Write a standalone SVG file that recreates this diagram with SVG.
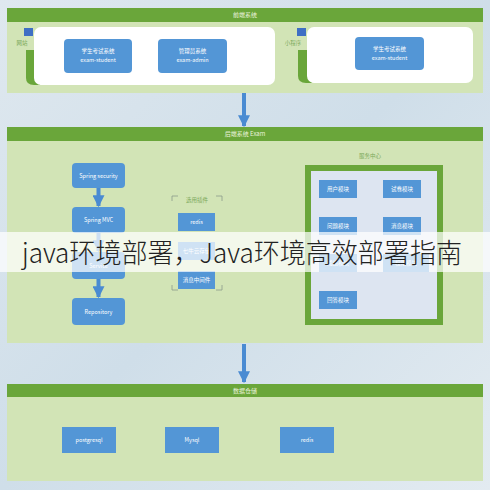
<svg xmlns="http://www.w3.org/2000/svg" width="490" height="490" viewBox="0 0 490 490">
<defs>
<linearGradient id="bg" x1="0" y1="0" x2="1" y2="1">
<stop offset="0" stop-color="#dfe8ef"/>
<stop offset="0.5" stop-color="#cfdee9"/>
<stop offset="1" stop-color="#e3ebf1"/>
</linearGradient>
<marker id="ah" viewBox="0 0 10 10" refX="9" refY="5" markerWidth="3" markerHeight="3" orient="auto">
<path d="M0,0 L10,5 L0,10 z" fill="#4a8bd2"/>
</marker>
</defs>
<style>
.hdr{fill:#6aa63a}
.body{fill:#d2e4b6}
.ht{font-family:"Noto Sans CJK SC","Liberation Sans",sans-serif;font-size:6px;fill:#eaf3dc;text-anchor:middle}
.bx{fill:#5396d6}
.bt{font-family:"Noto Sans CJK SC","Liberation Sans",sans-serif;font-size:5.5px;fill:#ffffff;text-anchor:middle}
.lab{font-family:"Noto Sans CJK SC","Liberation Sans",sans-serif;font-size:5.5px;fill:#7aa85a;text-anchor:middle}
.arr{stroke:#4a8bd2;stroke-width:4;fill:none;marker-end:url(#ah)}
.br{stroke:#8a9a8a;stroke-width:0.8;fill:none}
</style>
<rect width="490" height="490" fill="url(#bg)"/>

<g id="frontend">
<rect class="body" x="7" y="8" width="476" height="85"/>
<rect class="hdr" x="7" y="8" width="476" height="14"/>
<text class="ht" x="245" y="17">前端系统</text>
</g>
<g id="web">
<rect x="24" y="28" width="9" height="8" fill="#3f6fc4"/>
<text class="lab" x="22" y="45">网站</text>
<path d="M26,50 L26,78 Q26,85 34,85 L40,85 L40,50 z" fill="#6aa63a"/>
<rect x="34" y="27" width="241" height="58" rx="7" fill="#ffffff"/>
</g>
<g id="exam-student-web">
<rect class="bx" x="64" y="39" width="68" height="34" rx="4"/>
<text class="bt" x="98" y="53">学生考试系统</text>
<text class="bt" x="98" y="62">exam-student</text>
</g>
<g id="exam-admin">
<rect class="bx" x="158" y="39" width="69" height="34" rx="4"/>
<text class="bt" x="192.5" y="53">管理员系统</text>
<text class="bt" x="192.5" y="62">exam-admin</text>
</g>
<g id="miniapp">
<rect x="297" y="28" width="9" height="8" fill="#3f6fc4"/>
<text class="lab" x="293" y="45">小程序</text>
<path d="M298,50 L298,76 Q298,83 306,83 L312,83 L312,50 z" fill="#6aa63a"/>
<rect x="307" y="27" width="166" height="56" rx="7" fill="#ffffff"/>
</g>
<g id="exam-student-mini">
<rect class="bx" x="355" y="37" width="69" height="33" rx="4"/>
<text class="bt" x="389.5" y="51">学生考试系统</text>
<text class="bt" x="389.5" y="60">exam-student</text>
</g>

<g id="backend">
<rect class="body" x="7" y="127" width="476" height="216"/>
<rect class="hdr" x="7" y="127" width="476" height="14"/>
<text class="ht" x="245" y="136">后端系统 Exam</text>
</g>
<g id="spring-security">
<rect class="bx" x="72" y="163" width="53" height="25" rx="4"/>
<text class="bt" x="98.5" y="177.5">Spring security</text>
</g>
<g id="spring-mvc">
<rect class="bx" x="72" y="207" width="53" height="26" rx="4"/>
<text class="bt" x="98.5" y="222">Spring MVC</text>
</g>
<g id="service">
<rect class="bx" x="72" y="252" width="53" height="27" rx="4"/>
<text class="bt" x="98.5" y="267.5">Service</text>
</g>
<g id="repository">
<rect class="bx" x="72" y="298" width="53" height="27" rx="4"/>
<text class="bt" x="98.5" y="313.5">Repository</text>
</g>
<g id="plugins">
<text class="lab" x="197" y="202">选用插件</text>
<path class="br" d="M172,201 L172,196 L178,196 M216,196 L222,196 L222,201 M172,285 L172,290 L178,290 M216,290 L222,290 L222,285"/>
</g>
<g id="plugin-redis">
<rect class="bx" x="178" y="213" width="37" height="18"/>
<text class="bt" x="196.5" y="224">redis</text>
</g>
<g id="plugin-oss">
<rect class="bx" x="178" y="242" width="37" height="18"/>
<text class="bt" x="196.5" y="253">七牛云存储</text>
</g>
<g id="plugin-mq">
<rect class="bx" x="178" y="271" width="37" height="18"/>
<text class="bt" x="196.5" y="282">消息中间件</text>
</g>
<g id="service-center">
<text class="lab" x="370" y="158">服务中心</text>
<rect x="305" y="165" width="138" height="160" fill="#6aa63a"/>
<rect x="311" y="171" width="126" height="148" fill="#dde5f1"/>
</g>
<g id="mod-user"><rect class="bx" x="319" y="180" width="38" height="18"/><text class="bt" x="338" y="191">用户模块</text></g>
<g id="mod-paper"><rect class="bx" x="383" y="180" width="38" height="18"/><text class="bt" x="402" y="191">试卷模块</text></g>
<g id="mod-question"><rect class="bx" x="319" y="217" width="38" height="18"/><text class="bt" x="338" y="228">问题模块</text></g>
<g id="mod-message"><rect class="bx" x="383" y="217" width="38" height="18"/><text class="bt" x="402" y="228">消息模块</text></g>
<g id="mod-score"><rect class="bx" x="319" y="254" width="38" height="18"/><text class="bt" x="338" y="265">成绩模块</text></g>
<g id="mod-right"><rect class="bx" x="383" y="254" width="46" height="18"/><text class="bt" x="406" y="265">权限模块</text></g>
<g id="mod-answer"><rect class="bx" x="319" y="291" width="38" height="18"/><text class="bt" x="338" y="302">回答模块</text></g>

<g id="storage">
<rect class="body" x="7" y="384" width="476" height="97"/>
<rect class="hdr" x="7" y="384" width="476" height="13"/>
<text class="ht" x="245" y="393">数据仓储</text>
</g>
<g id="postgresql"><rect class="bx" x="62" y="427" width="54" height="26"/><text class="bt" x="89" y="442">postgresql</text></g>
<g id="mysql"><rect class="bx" x="165" y="427" width="54" height="26"/><text class="bt" x="192" y="442">Mysql</text></g>
<g id="db-redis"><rect class="bx" x="280" y="427" width="54" height="26"/><text class="bt" x="307" y="442">redis</text></g>

<g id="connectors">
<line class="arr" x1="244" y1="93" x2="244" y2="126"/>
<line class="arr" x1="244" y1="344" x2="244" y2="382"/>
<line class="arr" x1="98.5" y1="188" x2="98.5" y2="206"/>
<line class="arr" x1="98.5" y1="233" x2="98.5" y2="251"/>
<line class="arr" x1="98.5" y1="279" x2="98.5" y2="297"/>
</g>

<g id="watermark">
<rect x="0" y="232" width="490" height="40" fill="#ffffff" fill-opacity="0.72"/>
<text x="22" y="263" font-family="'Noto Sans CJK SC','Noto Sans',sans-serif" font-weight="300" font-size="27" fill="#222222" textLength="440" lengthAdjust="spacingAndGlyphs">java环境部署，Java环境高效部署指南</text>
</g>
</svg>
